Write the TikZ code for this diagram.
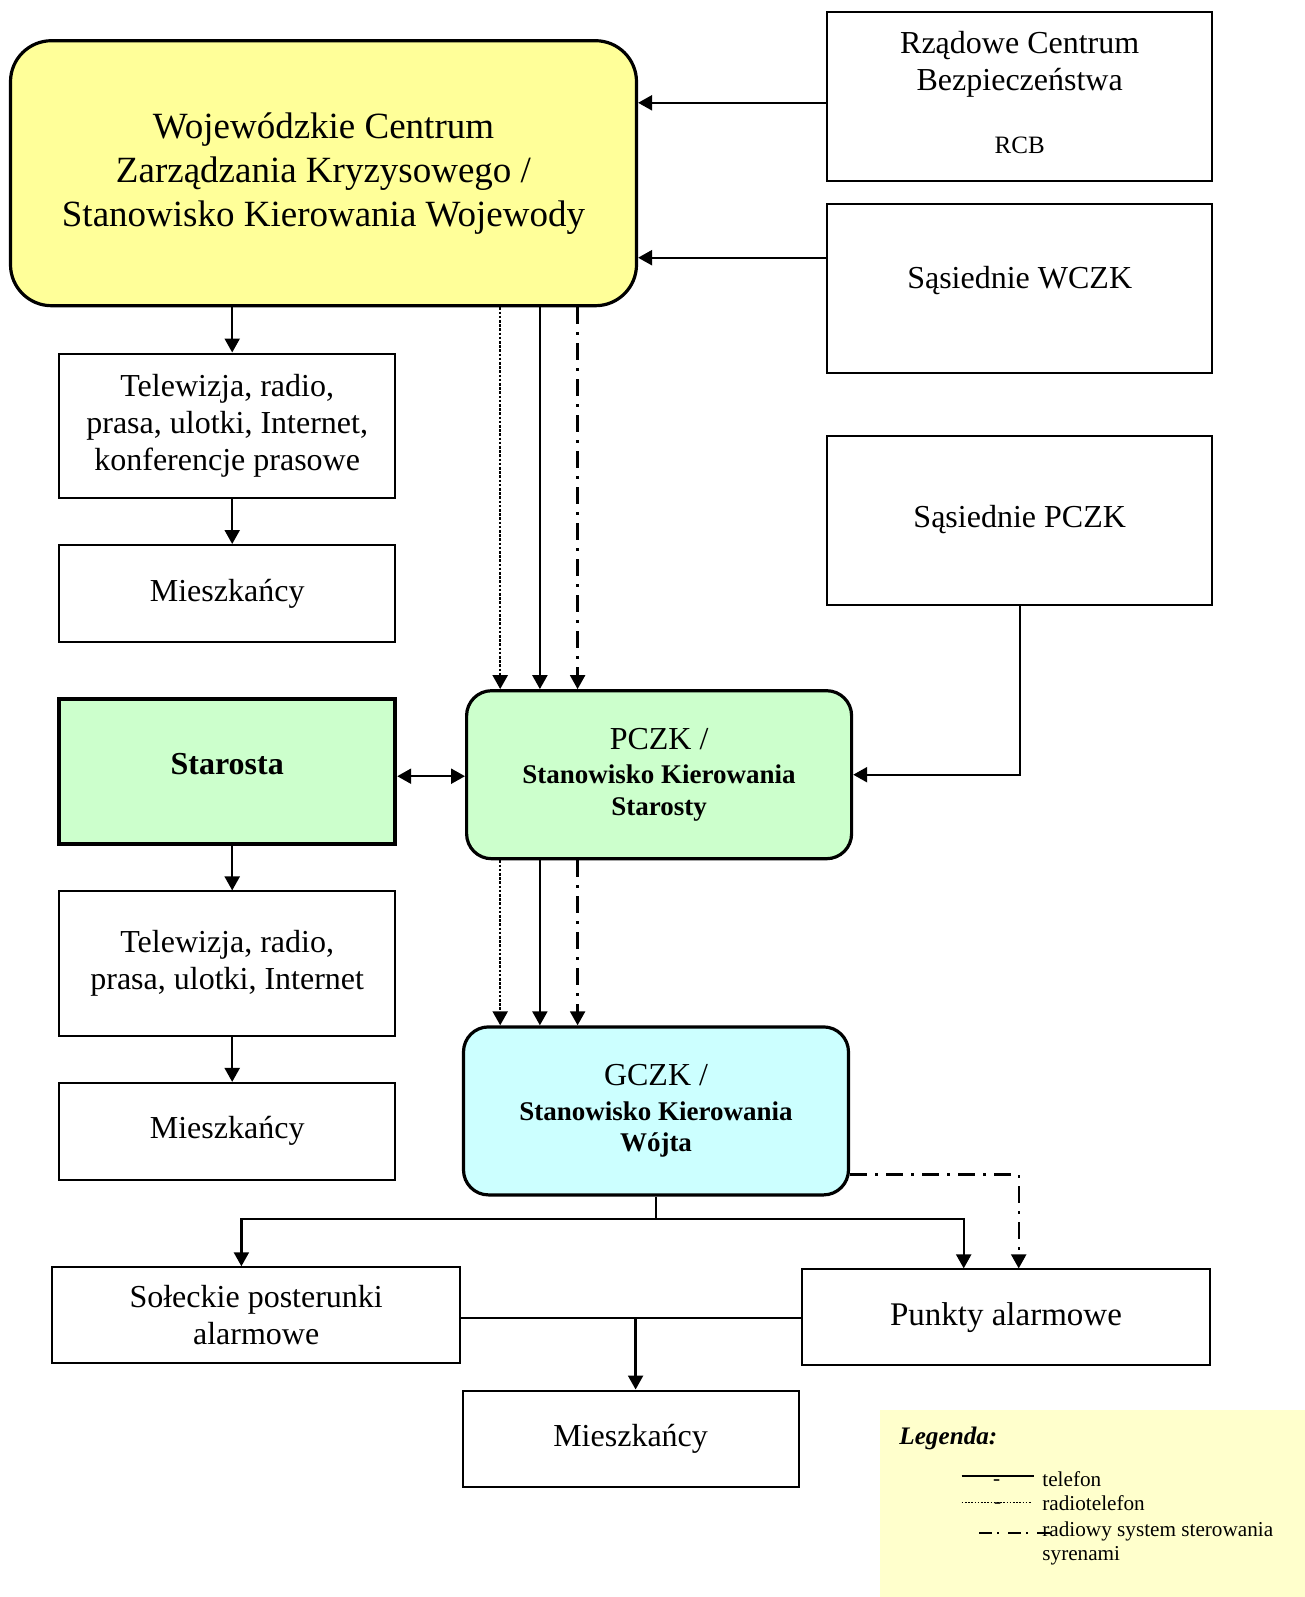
\documentclass[tikz,border=0pt]{standalone}
\usepackage{fontspec}
\setmainfont{Liberation Serif}
\usepackage{xcolor}
\definecolor{wczkyellow}{RGB}{255,255,153}
\definecolor{pczkgreen}{RGB}{204,255,204}
\definecolor{gczkcyan}{RGB}{204,255,255}
\definecolor{legendbg}{RGB}{255,255,204}
\usetikzlibrary{arrows.meta,positioning,calc}
\newcommand{\kier}[1]{{\bfseries\fontsize{13.5}{15.8}\selectfont #1}}
\tikzset{
  box/.style={draw=black, line width=1pt, fill=white, align=center, inner sep=3pt,
              font=\fontsize{16}{18.5}\selectfont},
  centrum/.style={box, line width=1.6pt, rounded corners=12.5pt},
  sidebox/.style={box, minimum width=192.5pt, minimum height=84.5pt},
  colbox/.style={box, minimum width=168pt},
  link/.style={line width=1.15pt, ->},
  telefon/.style={link},
  radiotel/.style={link, dash pattern=on 1.3pt off 0.8pt},
  syreny/.style={link, dash pattern=on 8.5pt off 4pt on 1.5pt off 4pt},
  legtext/.style={anchor=base west, inner sep=0pt, font=\fontsize{10.6}{12.3}\selectfont},
  >={Triangle[length=7pt,width=7.5pt]},
}

\begin{document}
\begin{tikzpicture}[x=0.5pt, y=-0.5pt]
\useasboundingbox (0,0) rectangle (1305,1597);

\node[centrum, fill=wczkyellow, rounded corners=20.5pt, minimum width=313pt,
      minimum height=132.5pt, font=\fontsize{18.5}{22}\selectfont] (wczk) at (323.5,173.2)
  {Wojewódzkie Centrum\\Zarządzania Kryzysowego /\\Stanowisko Kierowania Wojewody};
\node[sidebox, text depth=4pt] (rcb) at (1019.7,96.8)
  {Rządowe Centrum\\Bezpieczeństwa\\[13pt]{\fontsize{12.5}{15}\selectfont RCB}};
\node[sidebox, text depth=10.5pt] (swczk) at (1019.7,288.3) {Sąsiednie WCZK};
\node[sidebox, text depth=4pt] (spczk) at (1019.7,520.5) {Sąsiednie PCZK};

\node[colbox, minimum height=72.3pt] (tv1) at (227.2,425.8)
  {Telewizja, radio,\\prasa, ulotki, Internet,\\konferencje prasowe};
\node[colbox, minimum height=48.4pt] (m1) at (227.2,593.4) {Mieszkańcy};
\node[colbox, minimum height=72.3pt, line width=2pt, fill=pczkgreen, text depth=7pt,
      font=\fontsize{16}{18.5}\selectfont\bfseries] (starosta) at (227.2,771.2) {Starosta};
\node[colbox, minimum height=72.3pt] (tv2) at (227.2,963.7)
  {Telewizja, radio,\\prasa, ulotki, Internet};
\node[colbox, minimum height=48.4pt] (m2) at (227.2,1131.3) {Mieszkańcy};

\node[centrum, fill=pczkgreen, minimum width=192.5pt, minimum height=84pt] (pczk) at (659.1,774.7)
  {PCZK /\\[-1.2pt]\kier{Stanowisko Kierowania}\\[-2.7pt]\kier{Starosty}};
\node[centrum, fill=gczkcyan, minimum width=192.5pt, minimum height=84pt] (gczk) at (656,1110.9)
  {GCZK /\\[-1.2pt]\kier{Stanowisko Kierowania}\\[-2.7pt]\kier{Wójta}};

\node[box, minimum width=204.25pt, minimum height=47.85pt] (sol) at (256.2,1315.1)
  {Sołeckie posterunki\\alarmowe};
\node[box, minimum width=204.25pt, minimum height=47.85pt, font=\fontsize{16.5}{19}\selectfont]
  (punkty) at (1006,1317.2) {Punkty alarmowe};
\node[colbox, minimum height=48.4pt] (m3) at (630.6,1438.9) {Mieszkańcy};

\coordinate (rcbout) at ([yshift=-3pt]rcb.west);
\coordinate (swczkout) at ([yshift=15.3pt]swczk.west);
\draw[telefon] (rcbout) -- (rcbout -| wczk.east);
\draw[telefon] (swczkout) -- (swczkout -| wczk.east);

\coordinate (tv1in) at ([xshift=2.5pt]tv1.north);
\coordinate (m1in) at ([xshift=2.5pt]m1.north);
\draw[telefon] (wczk.south -| tv1in) -- (tv1in);
\draw[telefon] (tv1.south -| m1in) -- (m1in);

\coordinate (p1) at ([xshift=-79.45pt]pczk.north);
\coordinate (p2) at ([xshift=-59.6pt]pczk.north);
\coordinate (p3) at ([xshift=-40.75pt]pczk.north);
\draw[radiotel] (p1 |- wczk.south) -- (p1);
\draw[telefon] (p2 |- wczk.south) -- (p2);
\draw[syreny] (p3 |- wczk.south) -- (p3);

\draw[telefon] (spczk.south) |- (pczk.east);
\coordinate (starout) at ([yshift=-2.5pt]starosta.east);
\draw[link, <->] (starout) -- (starout -| pczk.west);

\coordinate (tv2in) at ([xshift=2.5pt]tv2.north);
\coordinate (m2in) at ([xshift=2.5pt]m2.north);
\draw[telefon] (starosta.south -| tv2in) -- (tv2in);
\draw[telefon] (tv2.south -| m2in) -- (m2in);

\draw[radiotel] (p1 |- pczk.south) -- (p1 |- gczk.north);
\draw[telefon] (p2 |- pczk.south) -- (p2 |- gczk.north);
\draw[syreny] (p3 |- pczk.south) -- (p3 |- gczk.north);

\coordinate (szyna) at ([yshift=-11.15pt]gczk.south);
\coordinate (solin) at ([xshift=-7.4pt]sol.north);
\coordinate (pktin) at ([xshift=-21.15pt]punkty.north);
\coordinate (syrout) at ([yshift=-31.85pt]gczk.east);
\coordinate (syrin) at ([xshift=6.35pt]punkty.north);
\draw[line width=1.15pt] (gczk.south) -- (szyna);
\draw[telefon] (szyna) -| (solin);
\draw[telefon] (szyna) -| (pktin);
\draw[syreny] (syrout) -| (syrin);

\coordinate (solout) at ([yshift=-1.5pt]sol.east);
\coordinate (m3in) at ([xshift=2.5pt]m3.north);
\draw[line width=1.15pt] (solout) -- (solout -| punkty.west);
\draw[telefon] (solout -| m3in) -- (m3in);

\node[fill=legendbg, anchor=north west, minimum width=213pt, minimum height=93.5pt, inner sep=0pt]
  (legenda) at (880,1410) {};
\node[anchor=west, inner sep=0pt, font=\fontsize{12.6}{15}\selectfont\bfseries\itshape]
  (legtytul) at (899,1438) {Legenda:};
\node[legtext] (leg1) at (1042,1486.7) {telefon};
\node[legtext] (leg2) at (1042,1510) {radiotelefon};
\node[legtext] (leg3) at (1042,1536) {radiowy system sterowania};
\node[legtext] (leg4) at (1042,1560) {syrenami};
\draw[line width=1.15pt] (961.7,1475.7) -- (1034.3,1475.7);
\draw[line width=0.8pt, dash pattern=on 0.8pt off 0.8pt] (961.7,1502.3) -- (1031.7,1502.3);
\draw[line width=1.15pt, dash pattern=on 6.5pt off 2.5pt on 1pt off 4.5pt] (979,1533.3) -- (1050,1533.3);
\node[inner sep=0pt, font=\fontsize{10.6}{12.3}\selectfont] (kr1) at (996.7,1483) {-};
\node[inner sep=0pt, font=\fontsize{10.6}{12.3}\selectfont] (kr2) at (997.7,1506) {-};
\end{tikzpicture}
\end{document}
